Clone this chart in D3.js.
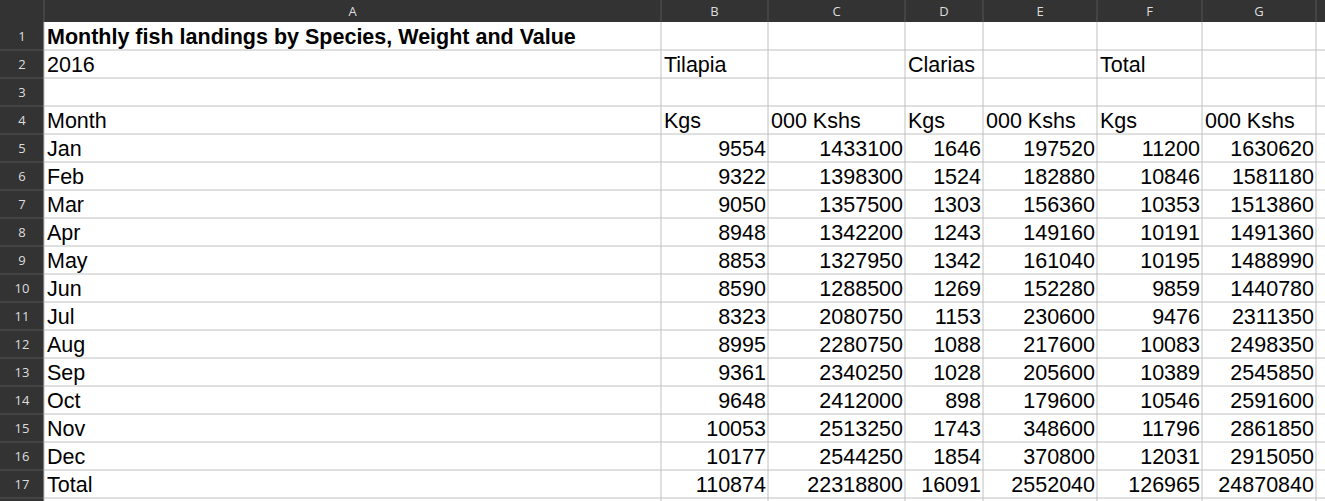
<!DOCTYPE html>
<html><head><meta charset="UTF-8">
<script src="https://d3js.org/d3.v7.min.js"></script>
<style>body{margin:0;background:#fff;overflow:hidden}</style>
</head><body>
<svg id="sheet" width="1325" height="501"></svg>
<script>
const colLetters = ["A", "B", "C", "D", "E", "F", "G", ""];
const colEdges = [44, 661, 768, 905, 983, 1097, 1202, 1316, 1400];
const months = ["Jan","Feb","Mar","Apr","May","Jun","Jul","Aug","Sep","Oct","Nov","Dec","Total"];
const tilapiaKgs = [9554,9322,9050,8948,8853,8590,8323,8995,9361,9648,10053,10177,110874];
const tilapiaKshs = [1433100,1398300,1357500,1342200,1327950,1288500,2080750,2280750,2340250,2412000,2513250,2544250,22318800];
const clariasKgs = [1646,1524,1303,1243,1342,1269,1153,1088,1028,898,1743,1854,16091];
const clariasKshs = [197520,182880,156360,149160,161040,152280,230600,217600,205600,179600,348600,370800,2552040];
const totalKgs = [11200,10846,10353,10191,10195,9859,9476,10083,10389,10546,11796,12031,126965];
const totalKshs = [1630620,1581180,1513860,1491360,1488990,1440780,2311350,2498350,2545850,2591600,2861850,2915050,24870840];

const headH = 22, rowH = 28, nRows = 18;
const svg = d3.select("#sheet");
const y = d3.scaleLinear().domain([0, 1]).range([headH, headH + rowH]);

// header bars
svg.append("rect").attr("width", 1325).attr("height", headH).attr("fill", "#333");
svg.append("rect").attr("width", 44).attr("height", 501).attr("fill", "#333");

// grid
for (let r = 1; r <= nRows; r++) {
  svg.append("line").attr("x1", 44).attr("x2", 1325).attr("y1", y(r)).attr("y2", y(r))
    .attr("stroke", "#c0c0c0");
  svg.append("line").attr("x1", 0).attr("x2", 44).attr("y1", y(r)).attr("y2", y(r))
    .attr("stroke", "#555");
}
colEdges.forEach(x => {
  svg.append("line").attr("x1", x).attr("x2", x).attr("y1", headH).attr("y2", 501).attr("stroke", "#c0c0c0");
  svg.append("line").attr("x1", x).attr("x2", x).attr("y1", 0).attr("y2", headH).attr("stroke", "#555");
});
// title row spans A over B borderless? keep grid

// column letters
colLetters.forEach((c, i) => {
  svg.append("text").attr("x", (colEdges[i] + colEdges[i + 1]) / 2).attr("y", 16)
    .attr("text-anchor", "middle").attr("fill", "#ddd")
    .attr("font-family", "Open Sans, sans-serif").attr("font-size", 13).text(c);
});
// row numbers
for (let r = 0; r < 17; r++) {
  svg.append("text").attr("x", 22).attr("y", y(r) + 19).attr("text-anchor", "middle")
    .attr("fill", "#ddd").attr("font-family", "Open Sans, sans-serif").attr("font-size", 13).text(r + 1);
}

function cell(row, col, txt, opts = {}) {
  const right = opts.right;
  svg.append("text")
    .attr("x", right ? colEdges[col + 1] - 2 : colEdges[col] + 3)
    .attr("y", y(row) + 22)
    .attr("text-anchor", right ? "end" : "start")
    .attr("font-family", "Liberation Sans, Arial, sans-serif")
    .attr("font-size", 21.5)
    .attr("font-weight", opts.bold ? "bold" : "normal")
    .attr("fill", "#000").text(txt);
}

// white backgrounds over the grid for overflowing title
svg.append("rect").attr("x", 45).attr("y", y(0) + 1).attr("width", 615).attr("height", rowH - 2).attr("fill", "#fff");
cell(0, 0, "Monthly fish landings by Species, Weight and Value", { bold: true });
cell(1, 0, "2016");
cell(1, 1, "Tilapia");
cell(1, 3, "Clarias");
cell(1, 5, "Total");
cell(3, 0, "Month");
["Kgs", "000 Kshs", "Kgs", "000 Kshs", "Kgs", "000 Kshs"].forEach((t, i) => cell(3, i + 1, t));

const series = [tilapiaKgs, tilapiaKshs, clariasKgs, clariasKshs, totalKgs, totalKshs];
months.forEach((m, i) => {
  cell(4 + i, 0, m);
  series.forEach((s, j) => cell(4 + i, j + 1, s[i], { right: true }));
});
</script>
</body></html>
